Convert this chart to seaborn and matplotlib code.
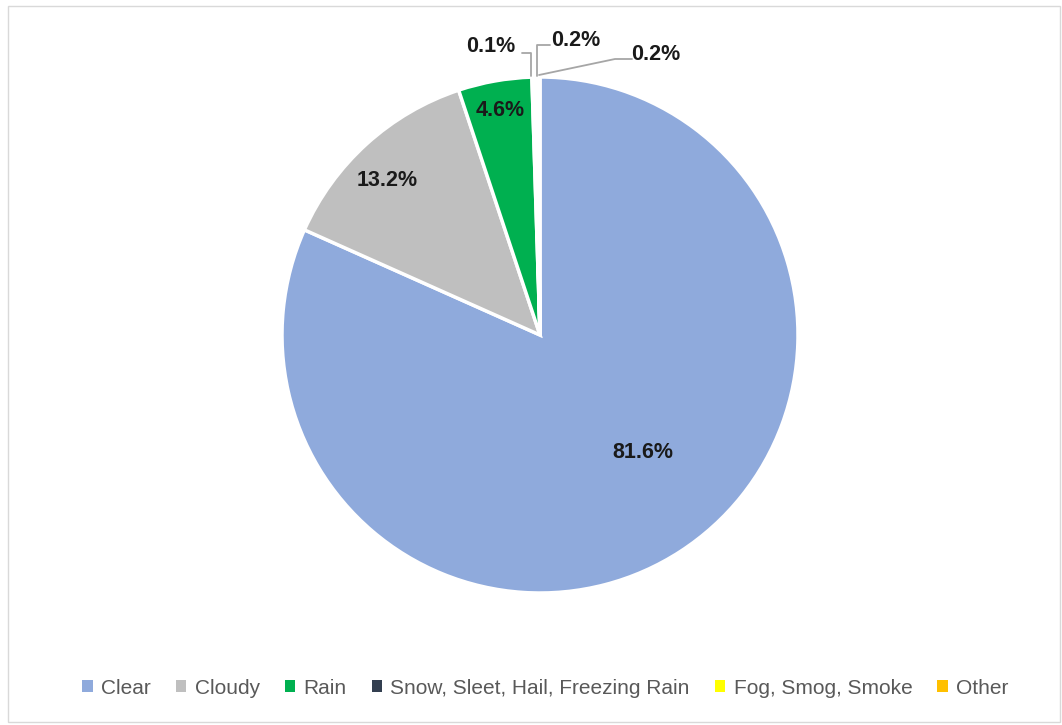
import matplotlib
matplotlib.use("Agg")
import matplotlib.pyplot as plt
import matplotlib.patches as mpatches
import seaborn as sns

categories = ["Clear", "Cloudy", "Rain", "Snow, Sleet, Hail, Freezing Rain", "Fog, Smog, Smoke", "Other"]
values = [81.6, 13.2, 4.6, 0.1, 0.2, 0.2]
colors = ["#8FAADC", "#BFBFBF", "#00B050", "#333F50", "#FFFF00", "#FFC000"]

sns.set_theme(style="white")
plt.rcParams['font.family'] = ['Liberation Sans', 'DejaVu Sans']

W, H = 1062, 725
fig = plt.figure(figsize=(W / 100, H / 100), dpi=100)
cx, cy, r = 540, 335, 258
ax = fig.add_axes([(cx - r) / W, (H - cy - r) / H, 2 * r / W, 2 * r / H])

wedges, _ = ax.pie(values, colors=colors, startangle=90, counterclock=False, radius=1,
                   wedgeprops=dict(edgecolor="white", linewidth=2.5))
ax.set_xlim(-1, 1)
ax.set_ylim(-1, 1)
ax.axis("off")

def px(x, y):
    return ((x - cx) / r, (cy - y) / r)

label_pos = [px(643, 453), px(387, 180), px(500, 110), px(491, 47), px(576, 41), px(656, 54)]
for v, (lx, ly) in zip(values, label_pos):
    ax.text(lx, ly, f"{v:.1f}%", ha="center", va="center", fontsize=15.5,
            fontweight="bold", color="#1a1a1a", clip_on=False)

lc = "#A6A6A6"
leaders = [
    [(522, 53), (531, 53), (531, 76)],
    [(550, 45), (537, 45), (537, 76)],
    [(539, 75), (615, 59), (632, 59)],
]
for pts in leaders:
    xs, ys = zip(*[px(a, b) for a, b in pts])
    ax.plot(xs, ys, color=lc, lw=1.3, clip_on=False)

handles = [mpatches.Patch(facecolor=c, edgecolor="none", label=l) for c, l in zip(colors, categories)]
leg = fig.legend(handles=handles, loc="center", bbox_to_anchor=((85 + 1006) / 2 / W, (H - 688) / H), ncol=6,
                 frameon=False, fontsize=15, handlelength=0.5, handleheight=0.5,
                 handletextpad=0.4, columnspacing=1.2)
for t in leg.get_texts():
    t.set_color("#595959")

fig.patches.append(mpatches.Rectangle((8 / W, 3 / H), (W - 10) / W, (H - 9) / H,
                                      transform=fig.transFigure, fill=False,
                                      edgecolor="#D9D9D9", lw=1))
fig.savefig("out.png", dpi=100)
